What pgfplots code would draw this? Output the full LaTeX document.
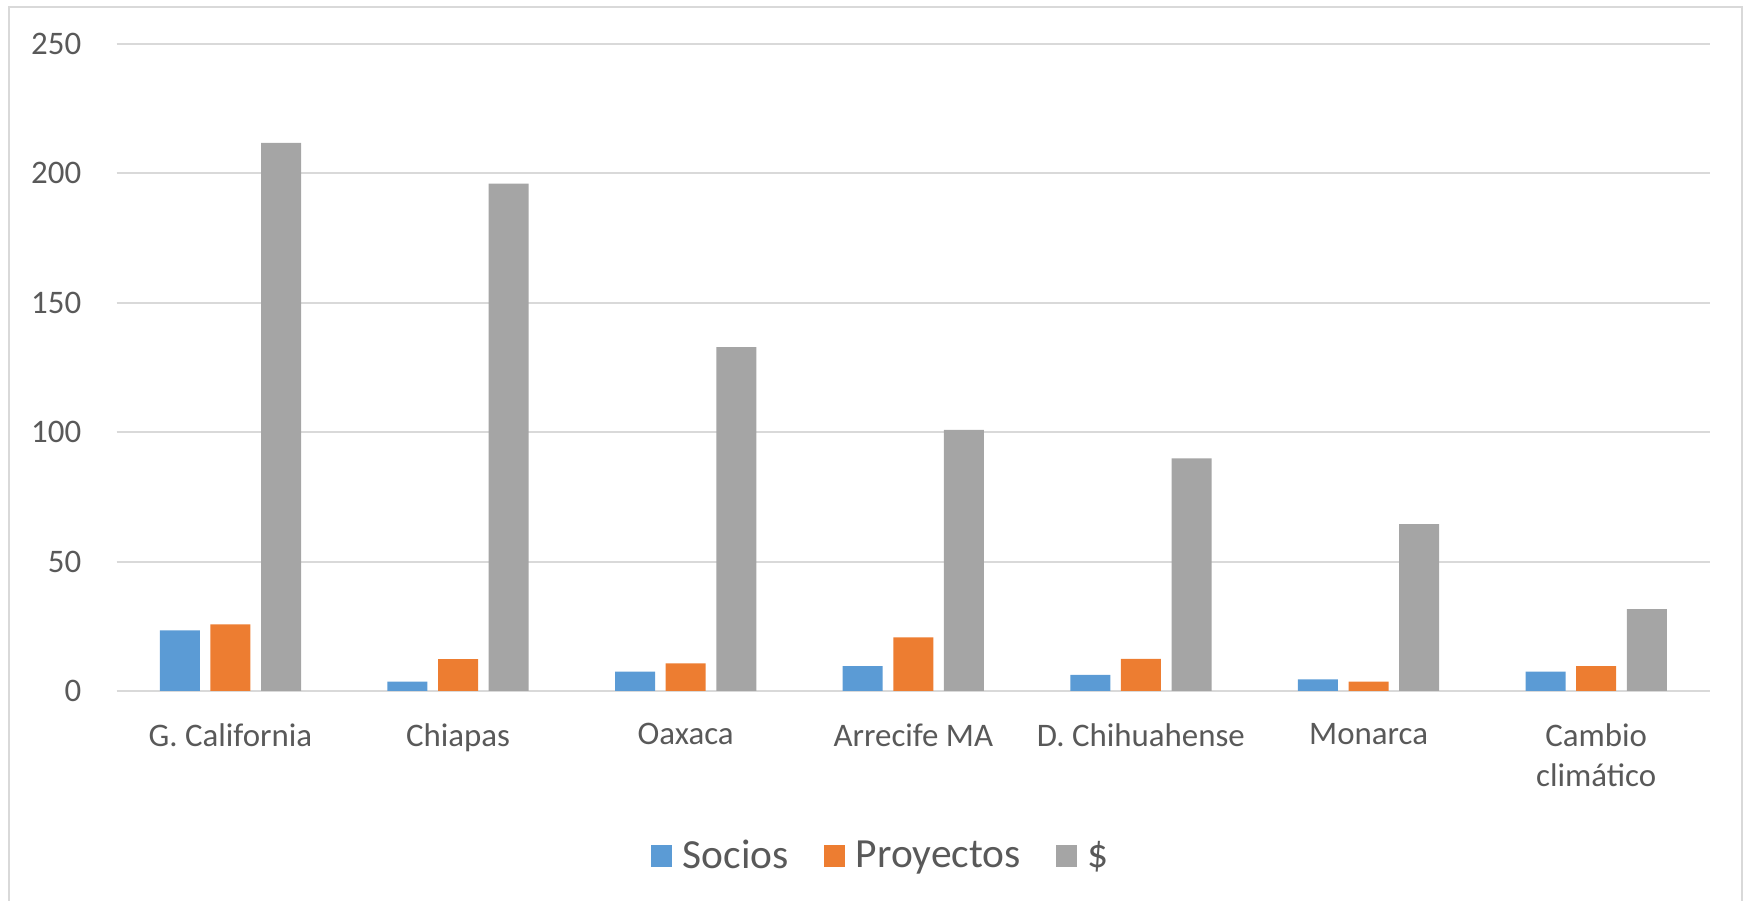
\documentclass[border=0pt]{standalone}
\usepackage{fontspec}
\setmainfont{Carlito}
\usepackage{pgfplots}
\pgfplotsset{compat=1.18}

\definecolor{cSocios}{HTML}{5B9BD5}
\definecolor{cProy}{HTML}{ED7D31}
\definecolor{cDinero}{HTML}{A5A5A5}
\definecolor{txt}{HTML}{595959}
\definecolor{gridc}{HTML}{D9D9D9}

\begin{document}
\begin{tikzpicture}
\useasboundingbox (0,0) rectangle (874bp,450.5bp);
% marco exterior
\draw[gridc, line width=1bp] (4.5bp,-5bp) -- (4.5bp,446.85bp) -- (871.15bp,446.85bp) -- (871.15bp,-5bp);

\begin{axis}[
    at={(58.3bp,105bp)}, anchor=south west,
    scale only axis,
    width=796.7bp, height=323.5bp,
    ybar=5.3bp, bar width=20bp,
    xmin=-0.5, xmax=6.5,
    ymin=0, ymax=250,
    ytick={0,50,100,150,200,250},
    xtick={0,1,2,3,4,5,6},
    xticklabels={G. California, Chiapas, Oaxaca, Arrecife MA, D. Chihuahense, Monarca, {Cambio\\climático}},
    major tick length=0pt,
    axis line style={draw=none},
    ymajorgrids,
    grid style={gridc, line width=1bp},
    /pgf/number format/assume math mode=true,
    tick label style={font=\fontsize{16.5}{20}\selectfont, text=txt},
    yticklabel style={anchor=east, inner sep=0pt, xshift=-17.5bp},
    xticklabel style={anchor=north, inner sep=0pt, yshift=-16bp, align=center},
    legend columns=3,
    legend style={draw=none, fill=none, at={(0.5,-0.255)}, anchor=center, xshift=-16bp,
        font=\fontsize{20.8}{24}\selectfont, text=txt,
        nodes={inner sep=1.5bp},
        /tikz/every odd column/.append style={column sep=4bp},
        /tikz/every even column/.append style={column sep=16bp}},
    legend image code/.code={\path[#1, draw=none] (0bp,-5.3bp) rectangle (10.5bp,5.3bp);},
]
\addplot[fill=cSocios, draw=none] coordinates {
    (0,23.4) (1,3.6) (2,7.5) (3,9.6) (4,6.2) (5,4.5) (6,7.5)
};
\addlegendentry{Socios}
\addplot[fill=cProy, draw=none] coordinates {
    (0,25.7) (1,12.3) (2,10.7) (3,20.7) (4,12.4) (5,3.6) (6,9.6)
};
\addlegendentry{Proyectos}
\addplot[fill=cDinero, draw=none] coordinates {
    (0,211.8) (1,196) (2,132.9) (3,100.9) (4,89.9) (5,64.5) (6,31.6)
};
\addlegendentry{\$}
\end{axis}
\end{tikzpicture}
\end{document}
